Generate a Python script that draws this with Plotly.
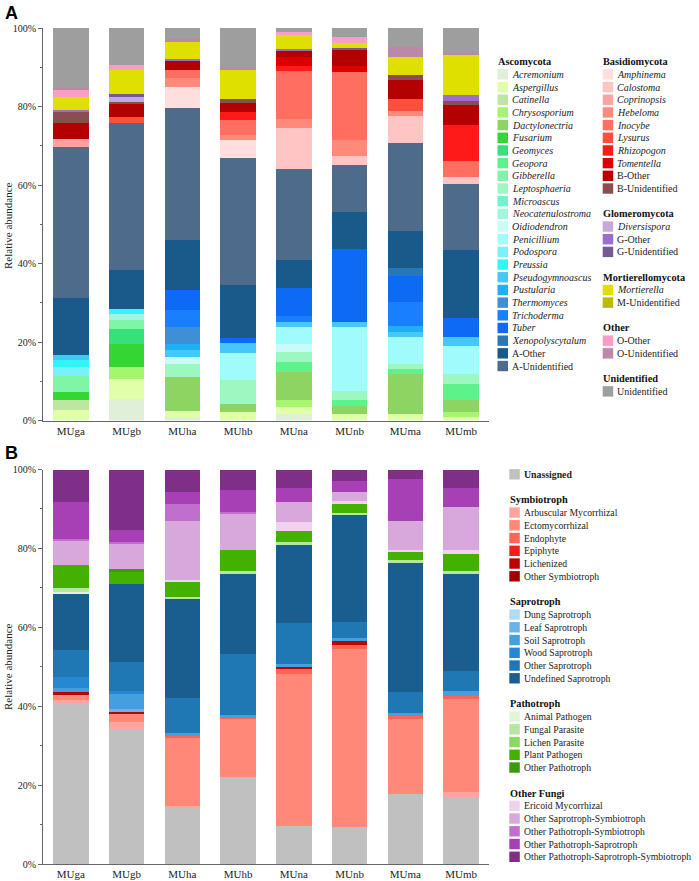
# stacked relative abundance bars, two panels with hand-built legends
import plotly.graph_objects as go

samples = ["MUga", "MUgb", "MUha", "MUhb", "MUna", "MUnb", "MUma", "MUmb"]
y_ticks = [0, 20, 40, 60, 80, 100]
y_labels = ["0%", "20%", "40%", "60%", "80%", "100%"]

# ---- panel A: taxa (bottom to top) and colours
asco_taxa = ["Acremonium", "Aspergillus", "Catinella", "Chrysosporium", "Dactylonectria", "Fusarium",
             "Geomyces", "Geopora", "Gibberella", "Leptosphaeria", "Microascus", "Neocatenulostroma",
             "Oidiodendron", "Penicillium", "Podospora", "Preussia", "Pseudogymnoascus", "Pustularia",
             "Thermomyces", "Trichoderma", "Tuber", "Xenopolyscytalum", "A-Other", "A-Unidentified"]
asco_colors = ["#E0F0D8", "#E0FFA8", "#BDE6A0", "#A6F56E", "#8DD462", "#33D633",
               "#36E07A", "#5EF28A", "#7FF5A6", "#9CF7C0", "#70F2D0", "#9EF7D8",
               "#C8FCF8", "#A0FCFC", "#7AF0FA", "#30F7F7", "#45C8F5", "#1EB0F5",
               "#3D90D5", "#1A7FFF", "#0D6AF5", "#2878B8", "#1A5A8A", "#4F6B8C"]
basidio_taxa = ["Amphinema", "Calostoma", "Coprinopsis", "Hebeloma", "Inocybe", "Lysurus",
                "Rhizopogon", "Tomentella", "B-Other", "B-Unidentified"]
basidio_colors = ["#FFDEDE", "#FFC4C4", "#FFA3A0", "#FF8A7A", "#FF6E5E", "#FF4E3E",
                  "#FF1A1A", "#DD0000", "#B30000", "#8B4E4E"]
glomero_taxa = ["Diversispora", "G-Other", "G-Unidentified"]
glomero_colors = ["#C4A8DE", "#9A6ECE", "#725A96"]
mort_taxa = ["Mortierella", "M-Unidentified"]
mort_colors = ["#E0E000", "#BDB800"]
other_taxa = ["O-Other", "O-Unidentified"]
other_colors = ["#FF9CC4", "#BB88AA"]
unid_taxa = ["Unidentified"]
unid_colors = ["#9E9E9E"]

# ---- panel A: relative abundance (%) per sample, taxa not listed are 0
MUga_A = {"Aspergillus": 2.7, "Catinella": 2.4, "Fusarium": 2.1, "Gibberella": 4.1, "Podospora": 2.3,
          "Preussia": 1.9, "Pseudogymnoascus": 1.3, "A-Other": 14.4, "A-Unidentified": 38.5,
          "Coprinopsis": 1.9, "B-Other": 4.1, "B-Unidentified": 3.0, "G-Other": 0.4, "Mortierella": 3.4,
          "O-Other": 1.7, "O-Unidentified": 0.6, "Unidentified": 15.2}
MUgb_A = {"Acremonium": 5.5, "Aspergillus": 5.1, "Chrysosporium": 3.0, "Fusarium": 6.0, "Geomyces": 3.8,
          "Gibberella": 2.1, "Neocatenulostroma": 1.7, "Preussia": 1.3, "A-Other": 9.9, "A-Unidentified": 37.3,
          "Lysurus": 1.7, "B-Other": 3.4, "B-Unidentified": 0.4, "Diversispora": 1.3, "G-Unidentified": 0.6,
          "Mortierella": 6.2, "O-Other": 1.3, "Unidentified": 9.4}
MUha_A = {"Acremonium": 1.0, "Aspergillus": 1.4, "Dactylonectria": 8.7, "Leptosphaeria": 3.4,
          "Oidiodendron": 1.8, "Pseudogymnoascus": 1.6, "Pustularia": 1.7, "Thermomyces": 4.2,
          "Trichoderma": 4.3, "Tuber": 5.2, "A-Other": 12.8, "A-Unidentified": 33.6, "Amphinema": 5.2,
          "Hebeloma": 2.3, "Inocybe": 2.1, "B-Other": 2.5, "G-Other": 0.4, "Mortierella": 4.3,
          "O-Unidentified": 0.7, "Unidentified": 2.8}
MUhb_A = {"Aspergillus": 2.1, "Dactylonectria": 2.2, "Leptosphaeria": 5.9, "Penicillium": 7.1,
          "Pseudogymnoascus": 2.4, "Tuber": 1.3, "A-Other": 13.6, "A-Unidentified": 32.3, "Amphinema": 4.5,
          "Hebeloma": 1.3, "Inocybe": 3.8, "Rhizopogon": 2.0, "B-Other": 2.3, "B-Unidentified": 1.0,
          "Mortierella": 7.5, "O-Unidentified": 0.5, "Unidentified": 10.2}
MUna_A = {"Acremonium": 1.7, "Aspergillus": 1.7, "Chrysosporium": 1.7, "Dactylonectria": 7.2, "Geopora": 2.7,
          "Leptosphaeria": 2.4, "Oidiodendron": 2.2, "Penicillium": 4.2, "Pseudogymnoascus": 1.4,
          "Trichoderma": 1.5, "Tuber": 7.1, "A-Other": 7.0, "A-Unidentified": 23.4, "Calostoma": 10.4,
          "Hebeloma": 2.2, "Inocybe": 12.3, "Rhizopogon": 1.3, "Tomentella": 2.3, "B-Other": 1.5,
          "G-Other": 0.4, "Mortierella": 3.6, "O-Other": 0.7, "Unidentified": 1.1}
MUnb_A = {"Aspergillus": 1.7, "Dactylonectria": 2.1, "Geopora": 1.3, "Leptosphaeria": 2.4, "Penicillium": 16.3,
          "Pseudogymnoascus": 1.3, "Tuber": 18.6, "A-Other": 9.4, "A-Unidentified": 12.0, "Calostoma": 2.4,
          "Hebeloma": 3.9, "Inocybe": 17.5, "Tomentella": 1.4, "B-Other": 4.3, "G-Unidentified": 0.3,
          "Mortierella": 1.4, "O-Other": 1.4, "Unidentified": 2.3}
MUma_A = {"Aspergillus": 1.7, "Dactylonectria": 10.2, "Geopora": 1.1, "Leptosphaeria": 1.5, "Penicillium": 6.8,
          "Pseudogymnoascus": 1.2, "Pustularia": 1.7, "Trichoderma": 6.0, "Tuber": 6.5,
          "Xenopolyscytalum": 2.2, "A-Other": 9.4, "A-Unidentified": 22.5, "Calostoma": 6.8, "Hebeloma": 1.3,
          "Lysurus": 3.0, "B-Other": 4.8, "B-Unidentified": 1.3, "Mortierella": 4.7, "O-Unidentified": 2.5,
          "Unidentified": 4.8}
MUmb_A = {"Aspergillus": 1.0, "Chrysosporium": 1.2, "Dactylonectria": 2.9, "Geopora": 4.3, "Leptosphaeria": 2.5,
          "Penicillium": 7.2, "Pseudogymnoascus": 2.3, "Tuber": 4.8, "A-Other": 17.2, "A-Unidentified": 16.8,
          "Calostoma": 1.9, "Inocybe": 3.9, "Rhizopogon": 9.3, "B-Other": 5.2, "B-Unidentified": 1.0,
          "G-Other": 1.4, "Mortierella": 10.2, "O-Unidentified": 0.6, "Unidentified": 6.3}

# ---- panel B: guilds (bottom to top) and colours
unassigned_guilds = ["Unassigned"]
unassigned_colors = ["#C0C0C0"]
symbio_guilds = ["Arbuscular Mycorrhizal", "Ectomycorrhizal", "Endophyte", "Epiphyte", "Lichenized",
                 "Other Symbiotroph"]
symbio_colors = ["#FFA5A0", "#FF8878", "#FF6455", "#FF1A1A", "#C00000", "#A00000"]
sapro_guilds = ["Dung Saprotroph", "Leaf Saprotroph", "Soil Saprotroph", "Wood Saprotroph", "Other Saprotroph",
                "Undefined Saprotroph"]
sapro_colors = ["#B0DCF2", "#6CB4E8", "#449EDF", "#2688D2", "#1F77B4", "#1A5E8F"]
patho_guilds = ["Animal Pathogen", "Fungal Parasite", "Lichen Parasite", "Plant Pathogen", "Other Pathotroph"]
patho_colors = ["#E0F5D8", "#B8E6A0", "#8CD860", "#44B000", "#3A9A10"]
fungi_guilds = ["Ericoid Mycorrhizal", "Other Saprotroph-Symbiotroph", "Other Pathotroph-Symbiotroph",
                "Other Pathotroph-Saprotroph", "Other Pathotroph-Saprotroph-Symbiotroph"]
fungi_colors = ["#F0D2F0", "#D8A8DC", "#C070CC", "#A640B4", "#7F2F88"]

MUga_B = {"Unassigned": 41.1, "Arbuscular Mycorrhizal": 0.5, "Ectomycorrhizal": 1.6, "Lichenized": 0.4,
          "Soil Saprotroph": 0.9, "Wood Saprotroph": 2.9, "Other Saprotroph": 6.8, "Undefined Saprotroph": 14.6,
          "Animal Pathogen": 0.2, "Fungal Parasite": 1.0, "Plant Pathogen": 5.9,
          "Other Saprotroph-Symbiotroph": 6.2, "Other Pathotroph-Symbiotroph": 0.3,
          "Other Pathotroph-Saprotroph": 9.3, "Other Pathotroph-Saprotroph-Symbiotroph": 8.3}
MUgb_B = {"Unassigned": 34.1, "Arbuscular Mycorrhizal": 2.0, "Ectomycorrhizal": 2.3, "Lichenized": 0.5,
          "Leaf Saprotroph": 0.3, "Soil Saprotroph": 4.0, "Wood Saprotroph": 0.7, "Other Saprotroph": 7.4,
          "Undefined Saprotroph": 19.6, "Plant Pathogen": 3.1, "Other Pathotroph": 0.8,
          "Other Saprotroph-Symbiotroph": 6.5, "Other Pathotroph-Symbiotroph": 0.2,
          "Other Pathotroph-Saprotroph": 3.1, "Other Pathotroph-Saprotroph-Symbiotroph": 15.4}
MUha_B = {"Unassigned": 14.1, "Arbuscular Mycorrhizal": 0.6, "Ectomycorrhizal": 17.3, "Endophyte": 0.6,
          "Soil Saprotroph": 0.5, "Other Saprotroph": 8.9, "Undefined Saprotroph": 25.1, "Fungal Parasite": 0.6,
          "Plant Pathogen": 4.1, "Ericoid Mycorrhizal": 0.3, "Other Saprotroph-Symbiotroph": 14.9,
          "Other Pathotroph-Symbiotroph": 4.2, "Other Pathotroph-Saprotroph": 3.1,
          "Other Pathotroph-Saprotroph-Symbiotroph": 5.7}
MUhb_B = {"Unassigned": 22.0, "Ectomycorrhizal": 14.9, "Endophyte": 0.2, "Soil Saprotroph": 0.6,
          "Other Saprotroph": 15.5, "Undefined Saprotroph": 20.6, "Fungal Parasite": 0.4, "Plant Pathogen": 5.4,
          "Other Saprotroph-Symbiotroph": 9.4, "Other Pathotroph-Symbiotroph": 0.2,
          "Other Pathotroph-Saprotroph": 5.6, "Other Pathotroph-Saprotroph-Symbiotroph": 5.2}
MUna_B = {"Unassigned": 9.7, "Ectomycorrhizal": 38.4, "Endophyte": 1.7, "Lichenized": 0.5, "Soil Saprotroph": 0.5,
          "Other Saprotroph": 10.3, "Undefined Saprotroph": 20.1, "Fungal Parasite": 0.4, "Plant Pathogen": 2.8,
          "Ericoid Mycorrhizal": 2.3, "Other Saprotroph-Symbiotroph": 5.1, "Other Pathotroph-Saprotroph": 3.6,
          "Other Pathotroph-Saprotroph-Symbiotroph": 4.6}
MUnb_B = {"Unassigned": 9.5, "Ectomycorrhizal": 45.1, "Endophyte": 1.0, "Lichenized": 1.2, "Soil Saprotroph": 0.4,
          "Other Saprotroph": 4.2, "Undefined Saprotroph": 27.3, "Fungal Parasite": 0.3, "Plant Pathogen": 2.6,
          "Ericoid Mycorrhizal": 0.4, "Other Saprotroph-Symbiotroph": 2.4, "Other Pathotroph-Saprotroph": 2.8,
          "Other Pathotroph-Saprotroph-Symbiotroph": 2.8}
MUma_B = {"Unassigned": 17.7, "Ectomycorrhizal": 19.0, "Endophyte": 1.0, "Soil Saprotroph": 0.5,
          "Other Saprotroph": 5.5, "Undefined Saprotroph": 32.9, "Fungal Parasite": 0.4, "Plant Pathogen": 2.3,
          "Ericoid Mycorrhizal": 0.3, "Other Saprotroph-Symbiotroph": 7.3, "Other Pathotroph-Saprotroph": 10.7,
          "Other Pathotroph-Saprotroph-Symbiotroph": 2.4}
MUmb_B = {"Unassigned": 16.9, "Arbuscular Mycorrhizal": 1.4, "Ectomycorrhizal": 23.9, "Endophyte": 0.4,
          "Soil Saprotroph": 1.2, "Other Saprotroph": 5.1, "Undefined Saprotroph": 24.9, "Fungal Parasite": 0.4,
          "Plant Pathogen": 4.5, "Ericoid Mycorrhizal": 0.9, "Other Saprotroph-Symbiotroph": 10.9,
          "Other Pathotroph-Saprotroph": 4.9, "Other Pathotroph-Saprotroph-Symbiotroph": 4.6}

panel_a = [MUga_A, MUgb_A, MUha_A, MUhb_A, MUna_A, MUnb_A, MUma_A, MUmb_A]
panel_b = [MUga_B, MUgb_B, MUha_B, MUhb_B, MUna_B, MUnb_B, MUma_B, MUmb_B]

# legend groups: (title, names, colours, italic)
groups_a_left = [("Ascomycota", asco_taxa, asco_colors, True)]
groups_a_right = [("Basidiomycota", basidio_taxa, basidio_colors, True),
                  ("Glomeromycota", glomero_taxa, glomero_colors, True),
                  ("Mortierellomycota", mort_taxa, mort_colors, True),
                  ("Other", other_taxa, other_colors, False),
                  ("Unidentified", unid_taxa, unid_colors, False)]
groups_b = [("Symbiotroph", symbio_guilds, symbio_colors, False),
            ("Saprotroph", sapro_guilds, sapro_colors, False),
            ("Pathotroph", patho_guilds, patho_colors, False),
            ("Other Fungi", fungi_guilds, fungi_colors, False)]

SERIF = "Liberation Serif, Times New Roman, serif"
W, H = 699, 881
ML, MR, MT, MB = 43, 210, 28, 17
PW, PH = W - ML - MR, H - MT - MB


def px_x(x):
    return (x - ML) / PW


def px_y(y):
    return (H - MB - y) / PH


fig = go.Figure()

all_a = [(n, c) for _, names, cols, _ in groups_a_left + groups_a_right for n, c in zip(names, cols)]
for name, color in all_a:
    fig.add_trace(go.Bar(x=samples, y=[s.get(name, 0) for s in panel_a], name=name,
                         marker=dict(color=color, line=dict(width=0)),
                         xaxis="x", yaxis="y", showlegend=False))

all_b = [(n, c) for n, c in zip(unassigned_guilds, unassigned_colors)]
all_b += [(n, c) for _, names, cols, _ in groups_b for n, c in zip(names, cols)]
for name, color in all_b:
    fig.add_trace(go.Bar(x=samples, y=[s.get(name, 0) for s in panel_b], name=name,
                         marker=dict(color=color, line=dict(width=0)),
                         xaxis="x2", yaxis="y2", showlegend=False))

shapes = []
annotations = []


def swatch(x, y, color, text, size, italic=False, bold=False):
    shapes.append(dict(type="rect", xref="paper", yref="paper",
                       x0=px_x(x), x1=px_x(x + 10.5), y0=px_y(y + 5.2), y1=px_y(y - 5.2),
                       fillcolor=color, line=dict(width=0)))
    label = text
    if italic:
        label = "<i>" + label + "</i>"
    if bold:
        label = "<b>" + label + "</b>"
    annotations.append(dict(x=px_x(x + 12.5), y=px_y(y), xref="paper", yref="paper",
                            text=label, showarrow=False, xanchor="left", yanchor="middle",
                            font=dict(family=SERIF, size=size, color="#222")))


def title(x, y, text):
    annotations.append(dict(x=px_x(x - 1.5), y=px_y(y), xref="paper", yref="paper",
                            text="<b>" + text + "</b>", showarrow=False, xanchor="left", yanchor="middle",
                            font=dict(family=SERIF, size=10.3, color="#111")))


def draw_groups(groups, x, y0, pitch, size, row=0):
    for gtitle, names, cols, italic in groups:
        title(x, y0 + row * pitch, gtitle)
        row += 1
        for name, col in zip(names, cols):
            it = italic and not name[1:2] == "-"
            swatch(x, y0 + row * pitch, col, name, size, italic=it)
            row += 1
        row += 1
    return row


pitch = 12.68
draw_groups(groups_a_left, 497.5, 61.7, pitch, 10)
draw_groups(groups_a_right, 602.7, 61.7, pitch, 10)

pitch_b = 12.75
swatch(509.3, 474.3, unassigned_colors[0], "Unassigned", 9.8, bold=True)
draw_groups(groups_b, 509.3, 474.3, pitch_b, 9.7, row=2)

# panel letters and y titles
for letter, y in [("A", 13), ("B", 453)]:
    annotations.append(dict(x=px_x(3), y=px_y(y), xref="paper", yref="paper", text="<b>" + letter + "</b>",
                            showarrow=False, xanchor="left", yanchor="middle",
                            font=dict(family="Liberation Sans", size=18, color="#000")))
for y in [226, 667]:
    annotations.append(dict(x=px_x(8), y=px_y(y), xref="paper", yref="paper", text="Relative abundance",
                            showarrow=False, textangle=-90, xanchor="center", yanchor="middle",
                            font=dict(family=SERIF, size=11, color="#222")))

xaxis_style = dict(showline=True, linecolor="#666", linewidth=1, ticks="", showgrid=False, automargin=False,
                   tickfont=dict(family=SERIF, size=11, color="#222"))
yaxis_style = dict(range=[0, 100], tickmode="array", tickvals=y_ticks, ticktext=y_labels, ticks="outside",
                   ticklen=4, tickcolor="#666", showline=True, linecolor="#666", linewidth=1,
                   showgrid=False, zeroline=False, automargin=False,
                   minor=dict(ticks="outside", dtick=10, ticklen=2, tickcolor="#666"),
                   tickfont=dict(family=SERIF, size=10, color="#222"))

top_a = px_y(28)
bot_a = px_y(420.5)
top_b = px_y(469.5)

fig.update_layout(
    width=W, height=H,
    margin=dict(l=ML, r=MR, t=MT, b=MB, autoexpand=False),
    paper_bgcolor="white", plot_bgcolor="white",
    barmode="stack", bargap=0.36,
    xaxis=dict(domain=[0, 1], anchor="y", **xaxis_style),
    yaxis=dict(domain=[bot_a, top_a], anchor="x", **yaxis_style),
    xaxis2=dict(domain=[0, 1], anchor="y2", **xaxis_style),
    yaxis2=dict(domain=[0, top_b], anchor="x2", **yaxis_style),
    shapes=shapes,
    annotations=annotations,
    showlegend=False,
)

# page body has a default 8px margin; drop it so the figure sits at the window corner
fig.write_html("out.html", config={"displayModeBar": False},
               post_script="document.body.style.margin='0';")
